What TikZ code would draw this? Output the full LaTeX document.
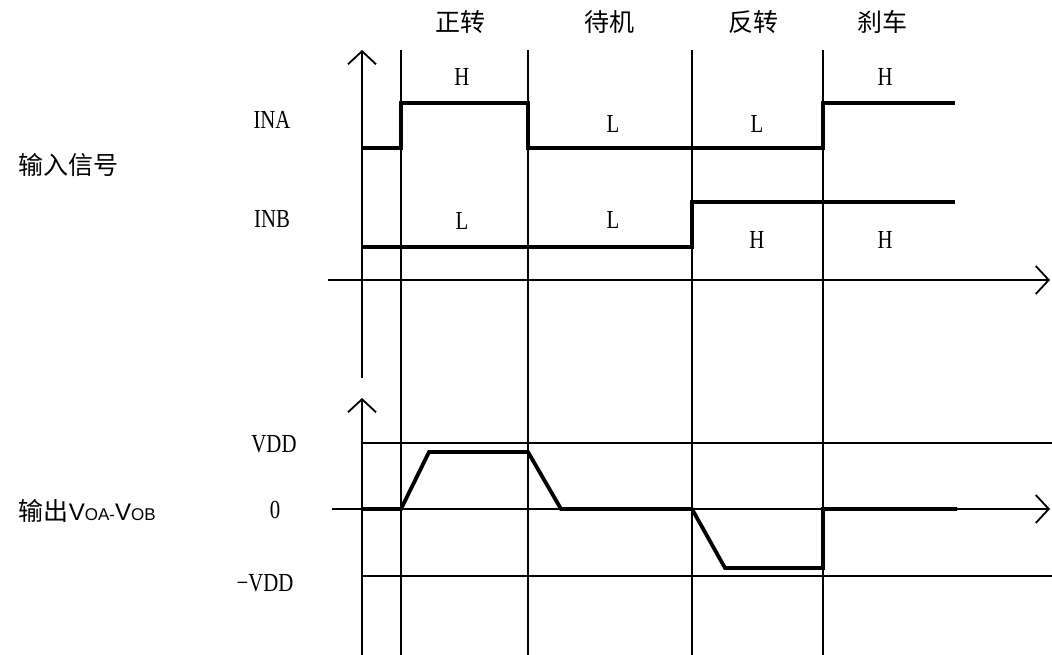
\documentclass[tikz,border=0pt]{standalone}
\usepackage{fontspec}
\setmainfont[FakeStretch=0.8]{Liberation Serif}
\newfontfamily\cjk{Noto Sans CJK SC}
\newfontfamily\vsans{Liberation Sans}
\usepackage{tikz}
\usetikzlibrary{positioning}
\usetikzlibrary{arrows.meta}
\usetikzlibrary{calc}

\begin{document}
\begin{tikzpicture}[x=1pt,y=-1pt,line width=1.8pt,
		>={Straight Barb[length=13pt,width=28pt]}]
		\tikzstyle{every node}=[inner sep=0pt,font=\fontsize{26}{30}\selectfont]
		\tikzstyle{head}=[font=\cjk\fontsize{25}{30}\selectfont]
		\tikzstyle{signal}=[line width=3.8pt,line join=miter]
		\useasboundingbox (0,0) rectangle (1052,655);

		% axes
		\coordinate (a1) at (362,378);
		\coordinate (a2) at (362,50);
		\coordinate (a3) at (362,655);
		\coordinate (a4) at (362,398);
		\coordinate (x1) at (328,280);
		\coordinate (x2) at (1050,280);
		\coordinate (z1) at (332,509);
		\coordinate (z2) at (1050,509);
		\draw[->] (a1) -- (a2);
		\draw[->] (a3) -- (a4);
		\draw[->] (x1) -- (x2);
		\draw[->] (z1) -- (z2);
		\draw (362,443) -- (1052,443);
		\draw (362,576) -- (1052,576);
		\foreach \t in {401,528,692,823}
			\draw (\t,50) -- (\t,655);

		% headings
		\node[head] (fwd)  at (460,22) {正转};
		\node[head] (idle) at (609,22) {待机};
		\node[head] (rev)  at (753,22) {反转};
		\node[head] (brk)  at (882,22) {刹车};
		\node[head,anchor=west] (in)  at (18,165) {输入信号};
		\node[head,anchor=west] (out) at (18,511)
			{输出{\vsans\fontsize{24}{28}\selectfont V\fontsize{17}{20}\selectfont OA-\fontsize{24}{28}\selectfont V\fontsize{17}{20}\selectfont OB}};

		% levels
		\node (ina) at (272,120) {INA};
		\node (inb) at (272,219) {INB};
		\node (vdd) at (274,444) {VDD};
		\node (zero) at (275,510) {0};
		\node (mvdd) at (265,583) {−VDD};

		\node (a-fwd)  at (462,77)  {H};
		\node (b-fwd)  at (462,221) {L};
		\node (a-idle) at (613,124) {L};
		\node (b-idle) at (613,220) {L};
		\node (a-rev)  at (757,124) {L};
		\node (b-rev)  at (757,240) {H};
		\node (a-brk)  at (885,77)  {H};
		\node (b-brk)  at (885,240) {H};

		% waveforms
		\draw[signal] (362,148) -- (401,148) -- (401,103) -- (528,103) -- (528,148)
			-- (823,148) -- (823,103) -- (955,103);
		\draw[signal] (362,247) -- (692,247) -- (692,202) -- (955,202);
		\draw[signal] (362,509) -- (401,509) -- (429,452) -- (528,452) -- (561,509)
			-- (692,509) -- (725,568) -- (823,568) -- (823,509) -- (957,509);
\end{tikzpicture}
\end{document}
